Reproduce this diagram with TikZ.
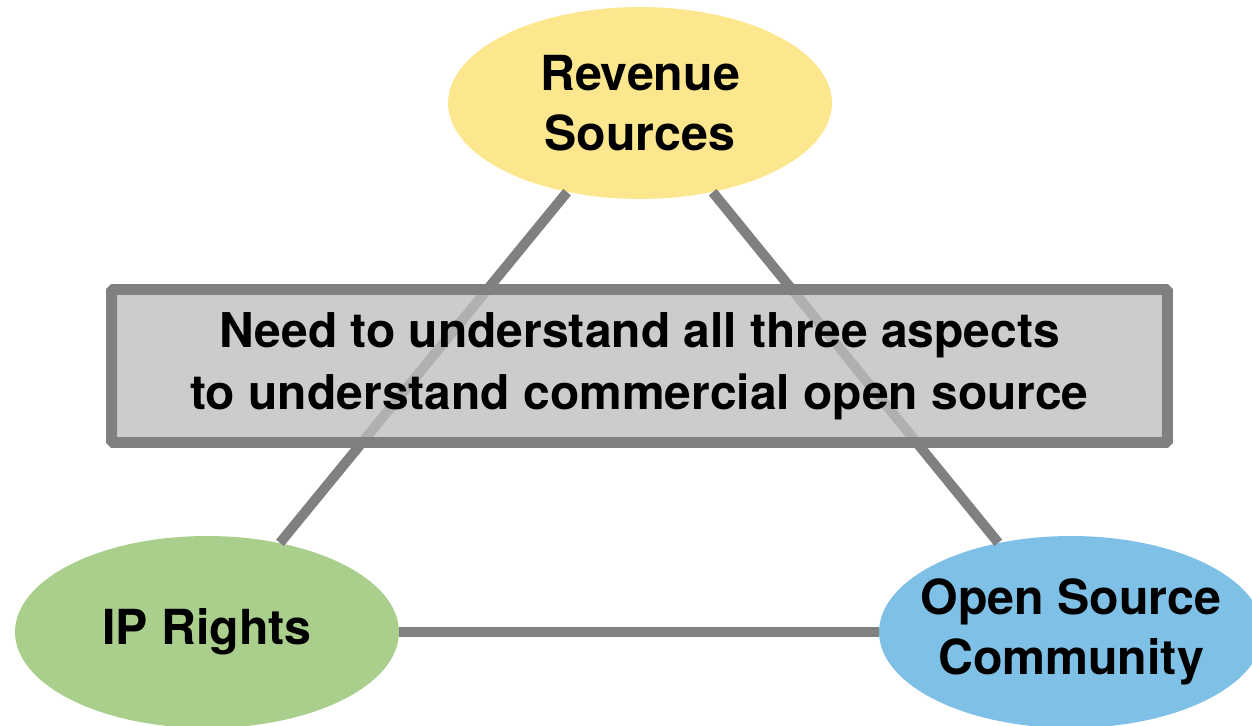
\documentclass[tikz,border=0pt]{standalone}
\usepackage{fontspec}
\setmainfont{TeX Gyre Heros}
\usetikzlibrary{shapes.geometric}

\definecolor{revyellow}{RGB}{253,231,142}
\definecolor{ipgreen}{RGB}{170,206,140}
\definecolor{ossblue}{RGB}{127,192,230}
\definecolor{linkgray}{RGB}{128,128,128}
\definecolor{notegray}{RGB}{190,190,190}

\begin{document}
\begin{tikzpicture}[
    x=0.02cm, y=-0.02cm,
    every node/.style={align=center},
    aspect/.style={ellipse, minimum width=7.68cm, minimum height=3.84cm, inner sep=0pt, inner xsep=-1cm, font=\fontsize{27.5}{34}\selectfont\bfseries},
    link/.style={draw=linkgray, line width=5.7pt},
    note/.style={rectangle, draw=linkgray, line width=6.2pt, fill=notegray, fill opacity=0.78, text opacity=1, minimum width=21.12cm, minimum height=3.06cm, rounded corners=1pt, font=\fontsize{27.3}{35}\selectfont\bfseries}
]
    \useasboundingbox (0,0) rectangle (1252,726);

    % Three aspects
    \node[aspect, fill=revyellow] (revenue) at (640,103) {Revenue\\Sources};
    \node[aspect, fill=ipgreen] (iprights) at (207,632) {IP Rights};
    \node[aspect, fill=ossblue] (community) at (1071,632) {Open Source\\Community};

    % Connections
    \draw[link] (revenue) -- (iprights);
    \draw[link] (revenue) -- (community);
    \draw[link] (iprights) -- (community);

    % Summary box
    \node[note] (summary) at (639.5,366) {Need to understand all three aspects\\to understand commercial open source};
\end{tikzpicture}
\end{document}
